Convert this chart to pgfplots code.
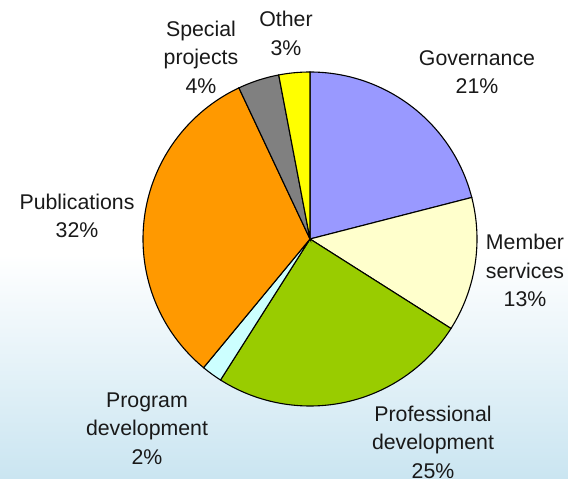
\documentclass[border=0pt]{standalone}
\usepackage{pgfplots}
\pgfplotsset{compat=1.18}
\usepackage{fontspec}
\setmainfont{Liberation Sans}
\definecolor{gov}{HTML}{9999FF}
\definecolor{mem}{HTML}{FFFFCC}
\definecolor{prof}{HTML}{99CC00}
\definecolor{prog}{HTML}{CCFFFF}
\definecolor{pub}{HTML}{FF9900}
\definecolor{spec}{HTML}{808080}
\definecolor{oth}{HTML}{FFFF00}
\definecolor{bgblue}{RGB}{202,229,241}
% slice: #1 = cumulative percent before, #2 = percent, #3 = colour
\newcommand{\slice}[3]{%
  \addplot[draw=black, line width=1.1bp, fill=#3, no markers, samples=120, variable=\t,
    domain=90-3.6*(#1+#2):90-3.6*(#1)]
    ({310+167*cos(\t)}, {240+167*sin(\t)}) -- (axis cs:310,240) -- cycle;
}
\begin{document}
\begin{tikzpicture}
\begin{axis}[hide axis, scale only axis, width=568bp, height=479bp,
  xmin=0, xmax=568, ymin=0, ymax=479, clip=false]
\fill[white] (axis cs:0,0) rectangle (axis cs:568,479);
\shade[top color=white, bottom color=bgblue] (axis cs:0,0) rectangle (axis cs:568,225);
\slice{0}{21}{gov}
\slice{21}{13}{mem}
\slice{34}{25}{prof}
\slice{59}{2}{prog}
\slice{61}{32}{pub}
\slice{93}{4}{spec}
\slice{97}{3}{oth}
\tikzset{lbl/.style={align=center, inner sep=0pt, text=black!90, font=\fontsize{21.3bp}{28.5bp}\selectfont}}
\node[lbl] at (axis cs:477,479-72) {Governance\\21\%};
\node[lbl] at (axis cs:525,479-270.5) {Member\\services\\13\%};
\node[lbl] at (axis cs:433,479-442) {Professional\\development\\25\%};
\node[lbl] at (axis cs:147,479-428.5) {Program\\development\\2\%};
\node[lbl] at (axis cs:77,479-216) {Publications\\32\%};
\node[lbl] at (axis cs:201,479-57) {Special\\projects\\4\%};
\node[lbl] at (axis cs:286,479-33.5) {Other\\3\%};
\end{axis}
\end{tikzpicture}
\end{document}
